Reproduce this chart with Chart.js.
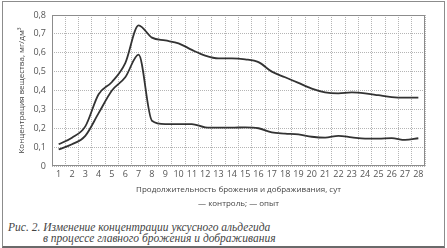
<!DOCTYPE html>
<html>
<head>
<meta charset="utf-8">
<script src="https://cdn.jsdelivr.net/npm/chart.js@4/dist/chart.umd.min.js"></script>
<style>
  body { margin: 0; background: #fff; }
  #frame {
    position: absolute; left: 2px; top: 1px; width: 441px; height: 244px;
    border: 1px solid #8c8c8c; border-bottom: 2px solid #6a6a6a;
  }
  #box { position: absolute; left: 0; top: 0; width: 447px; height: 200px; }
  .legend {
    position: absolute; left: 0; width: 477px; top: 197px; text-align: center;
    font: 8px "Open Sans", sans-serif; color: #444;
  }
  .caption {
    position: absolute; font: italic 11.5px "Liberation Serif", serif; color: #444;
    white-space: nowrap;
  }
</style>
</head>
<body>
<div id="frame"></div>
<div id="box"><canvas id="chart"></canvas></div>
<div class="legend">— контроль; — опыт</div>
<div class="caption" style="left:8px; top:221px;">Рис. 2. Изменение концентрации уксусного альдегида</div>
<div class="caption" style="left:43px; top:232px;">в процессе главного брожения и дображивания</div>
<script>
// days of fermentation
let days = ['1','2','3','4','5','6','7','8','9','10','11','12','13','14',
  '15','16','17','18','19','20','21','22','23','24','25','26','27','28'];

// контроль (upper curve)
let control = [0.115, 0.15, 0.21, 0.38, 0.445, 0.545, 0.745, 0.68, 0.665, 0.65,
  0.615, 0.585, 0.57, 0.57, 0.565, 0.55, 0.5, 0.47, 0.44, 0.41,
  0.39, 0.385, 0.39, 0.385, 0.375, 0.365, 0.362, 0.362];

// опыт (lower curve)
let experiment = [0.088, 0.115, 0.16, 0.28, 0.40, 0.47, 0.59, 0.24, 0.222, 0.222,
  0.222, 0.205, 0.203, 0.203, 0.205, 0.2, 0.178, 0.172, 0.167, 0.155,
  0.15, 0.16, 0.152, 0.145, 0.145, 0.148, 0.138, 0.147];

let yTickLabels = ['0', '0,1', '0,2', '0,3', '0,4', '0,5', '0,6', '0,7', '0,8'];

let tickFont = { family: 'Open Sans', size: 9 };
let gridStyle = { color: '#b5b5b5', lineWidth: 1 };

// plot frame on all four sides
let frameBox = {
  id: 'frameBox',
  afterDatasetsDraw(chart) {
    let a = chart.chartArea;
    let ctx = chart.ctx;
    ctx.save();
    ctx.strokeStyle = '#8c8c8c';
    ctx.lineWidth = 1;
    ctx.strokeRect(a.left + 0.5, a.top + 0.5, a.right - a.left - 1, a.bottom - a.top - 1);
    ctx.restore();
  }
};

new Chart(document.getElementById('chart'), {
  type: 'line',
  data: {
    labels: days,
    datasets: [
      { label: 'контроль', data: control },
      { label: 'опыт', data: experiment }
    ].map(d => Object.assign(d, {
      borderColor: '#333',
      borderWidth: 1.8,
      pointRadius: 0,
      cubicInterpolationMode: 'monotone',
      fill: false
    }))
  },
  options: {
    responsive: true,
    maintainAspectRatio: false,
    animation: false,
    layout: { padding: { left: 0, right: 22, top: 15, bottom: 0 } },
    plugins: { legend: { display: false }, tooltip: { enabled: false } },
    scales: {
      x: {
        type: 'category',
        offset: true,
        grid: { offset: true, drawTicks: false, borderDash: [1, 1], ...gridStyle },
        border: { display: false, dash: [1, 1] },
        ticks: { font: tickFont, color: '#555', padding: 3, maxRotation: 0, autoSkip: false },
        title: {
          display: true,
          text: 'Продолжительность брожения и дображивания, сут',
          font: { family: 'Open Sans', size: 8 },
          color: '#444',
          padding: { top: 0, bottom: 5 }
        },
        afterFit(scale) { scale.height = 34; }
      },
      y: {
        min: 0,
        max: 0.8,
        grid: { drawTicks: false, ...gridStyle },
        border: { display: false, dash: [1, 1] },
        ticks: {
          stepSize: 0.1,
          font: tickFont,
          color: '#555',
          padding: 6,
          callback: (v, i) => yTickLabels[i]
        },
        title: {
          display: true,
          text: 'Концентрация вещества, мг/дм³',
          font: { family: 'Open Sans', size: 8 },
          color: '#444',
          padding: { top: 17, bottom: 0 }
        },
        afterFit(scale) { scale.width = 52; }
      }
    }
  },
  plugins: [frameBox]
});
</script>
</body>
</html>
